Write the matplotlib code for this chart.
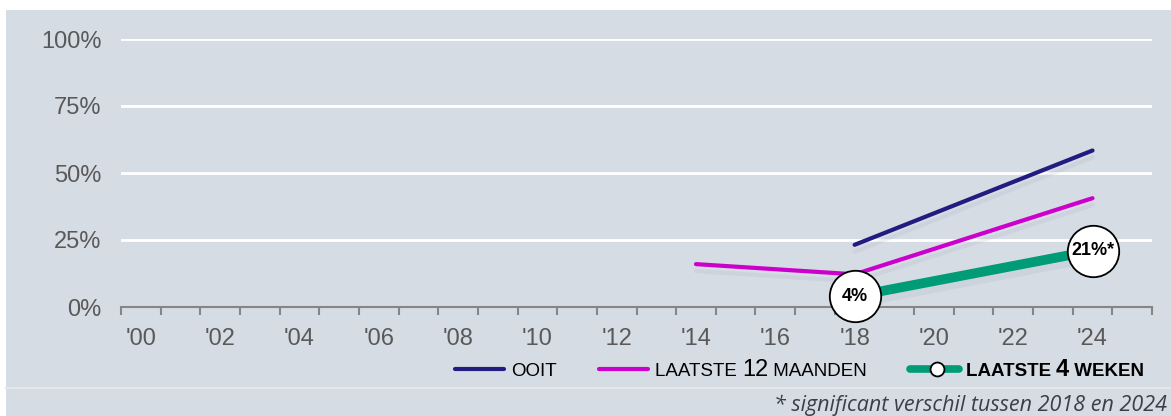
import matplotlib
matplotlib.use('Agg')
import matplotlib.pyplot as plt
import matplotlib.patheffects as pe
from matplotlib.lines import Line2D
from matplotlib.patches import Rectangle
from matplotlib.offsetbox import AnchoredOffsetbox, DrawingArea, HPacker, TextArea

# data
ooit_years = [2018, 2024]
ooit_values = [23.2, 58.4]
maanden_years = [2014, 2018, 2024]
maanden_values = [16.0, 12.2, 40.6]
weken_years = [2018, 2024]
weken_values = [4, 21]
weken_labels = ['4%', '21%*']
label_years = list(range(2000, 2025, 2))
label_texts = ["'%02d" % (y - 2000) for y in label_years]

navy = '#211C80'
magenta = '#CC00CC'
green = '#009B77'
bg = '#D6DCE4'
tick_col = '#595959'

plt.rcParams['font.family'] = ['Liberation Sans', 'DejaVu Sans']

fig = plt.figure(figsize=(11.71, 4.16), dpi=100, facecolor='white')
fig.patches.append(Rectangle((6 / 1171, 0), 1, 406 / 416, transform=fig.transFigure,
                             facecolor=bg, edgecolor='none', zorder=-10))
fig.lines.append(Line2D([6 / 1171, 1], [28 / 416, 28 / 416], transform=fig.transFigure,
                        color='#E4E6EA', lw=1.5, zorder=-5))

ax = fig.add_axes([121 / 1171, 109 / 416, 1031 / 1171, 268 / 416])
ax.patch.set_alpha(0)

shadow = [pe.SimpleLineShadow(offset=(0, -5), shadow_color='#9aa3b0', alpha=0.15), pe.Normal()]

ax.plot(ooit_years, ooit_values, color=navy, lw=3, solid_capstyle='round', zorder=3,
        path_effects=shadow)
ax.plot(maanden_years, maanden_values, color=magenta, lw=3, solid_capstyle='round', zorder=3,
        path_effects=shadow)
ax.plot(weken_years, weken_values, color=green, lw=7, zorder=4, path_effects=shadow)
ax.plot(weken_years, weken_values, ls='none', marker='o', ms=37, mfc='white', mec='black',
        mew=1.3, zorder=5, clip_on=False)
for x, y, t in zip(weken_years, weken_values, weken_labels):
    ax.text(x, y, t, ha='center', va='center', fontsize=13, fontweight='bold', zorder=6)

ax.set_xlim(1999.5, 2025.5)
ax.set_ylim(0, 100)
ax.set_yticks([0, 25, 50, 75, 100])
ax.set_yticklabels(['0%', '25%', '50%', '75%', '100%'])
ax.tick_params(axis='y', length=0, pad=14, labelsize=17, labelcolor=tick_col)
ax.grid(axis='y', color='white', lw=2)
ax.set_axisbelow(True)

ax.set_xticks([y - 0.5 for y in range(2000, 2027)])
ax.set_xticklabels([])
ax.set_xticks(label_years, minor=True)
ax.set_xticklabels(label_texts, minor=True)
ax.tick_params(axis='x', which='major', length=6, width=1.5, color='#868686', direction='out')
ax.tick_params(axis='x', which='minor', length=0, pad=15, labelsize=17, labelcolor=tick_col)

for s in ['top', 'right', 'left']:
    ax.spines[s].set_visible(False)
ax.spines['bottom'].set_color('#868686')
ax.spines['bottom'].set_linewidth(1.5)


# legend with mixed font sizes, built from offset boxes
def handle(color, lw, marker=False):
    da = DrawingArea(41, 10, 0, 0)
    da.add_artist(Line2D([3, 38], [5, 5], color=color, lw=lw, solid_capstyle='round'))
    if marker:
        da.add_artist(Line2D([22], [5], marker='o', ms=10, mfc='white', mec='black', mew=1.3))
    return da


def txt(s, size=13.5, weight='normal'):
    return TextArea(s, textprops=dict(fontsize=size, fontweight=weight, color='black'))


def entry(items, sep=2):
    return HPacker(children=items, align='baseline', pad=0, sep=sep)


items = [
    entry([handle(navy, 3), txt('OOIT')]),
    entry([handle(magenta, 3), entry([txt('LAATSTE '), txt('12', 17), txt(' MAANDEN')], 0)]),
    entry([handle(green, 5.5, True),
           entry([txt('LAATSTE ', weight='bold'), txt('4', 17, 'bold'), txt(' WEKEN', weight='bold')], 0)]),
]
legend_box = HPacker(children=items, align='baseline', pad=0, sep=28)
anchored = AnchoredOffsetbox(loc='center left', child=legend_box, pad=0, borderpad=0,
                             frameon=False, bbox_to_anchor=(451 / 1171, 47 / 416),
                             bbox_transform=fig.transFigure)
fig.add_artist(anchored)

fig.text(1167 / 1171, 11 / 416, '* significant verschil tussen 2018 en 2024', ha='right',
         va='center', fontsize=15.5, style='italic', color='#3A3F4A',
         family=['Open Sans', 'DejaVu Sans'])

fig.savefig('out.png', dpi=100, facecolor=fig.get_facecolor())
